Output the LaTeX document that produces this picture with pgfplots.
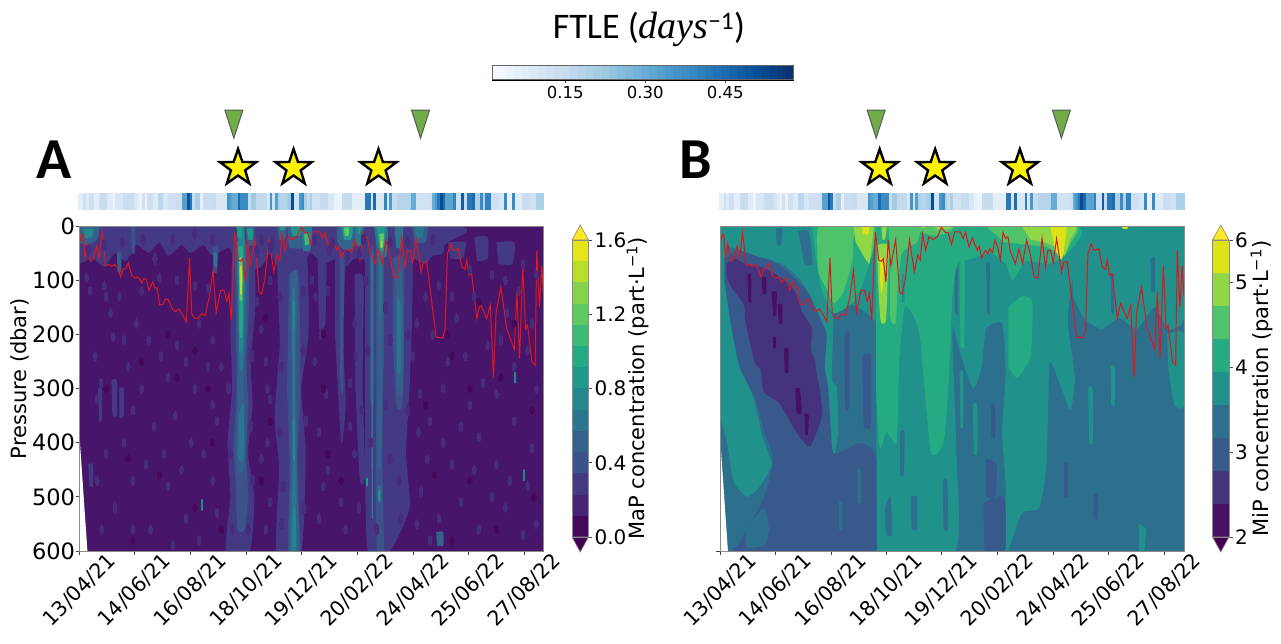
\documentclass[border=0pt]{standalone}
\usepackage{fontspec}
\setmainfont{DejaVu Sans}
\newfontfamily\calibri{Carlito}
\newfontfamily\serifit{Liberation Serif}
\usepackage{pgfplots}
\usepackage{pgfplotstable}
\pgfplotsset{compat=1.18}
\usetikzlibrary{calc}

% viridis bands, panel A (14 bands)
\definecolor{a0}{HTML}{47156A}\definecolor{a1}{HTML}{45085B}\definecolor{a3}{HTML}{443A83}
\definecolor{a2}{HTML}{482475}\definecolor{a2b}{HTML}{462C7B}
\definecolor{a4}{HTML}{3B528B}\definecolor{a5}{HTML}{33638D}\definecolor{a6}{HTML}{2A768E}
\definecolor{a7}{HTML}{24878E}\definecolor{a8}{HTML}{1F9A8A}\definecolor{a9}{HTML}{24AA83}
\definecolor{a10}{HTML}{3BBB75}\definecolor{a11}{HTML}{5EC962}\definecolor{a12}{HTML}{84D44B}
\definecolor{a13}{HTML}{B8DE29}\definecolor{a14}{HTML}{E3E419}
% viridis bands, panel B (9 bands)
\definecolor{b1}{HTML}{471063}\definecolor{b2}{HTML}{46337E}\definecolor{b3}{HTML}{37598C}
\definecolor{b4}{HTML}{2D708E}\definecolor{b5}{HTML}{21918C}\definecolor{b6}{HTML}{25AB82}
\definecolor{b7}{HTML}{4EC36B}\definecolor{b8}{HTML}{8FD744}\definecolor{b9}{HTML}{DDE318}
\definecolor{spine}{HTML}{8A8A8A}
\definecolor{tri}{HTML}{70AD47}
\definecolor{redl}{HTML}{E0161E}
\definecolor{topy}{HTML}{FDE725}
\definecolor{boty}{HTML}{440154}

\pgfplotsset{colormap={ftle}{rgb255=(247,251,255) rgb255=(222,235,247) rgb255=(198,219,239) rgb255=(158,202,225) rgb255=(107,174,214) rgb255=(66,146,198) rgb255=(33,113,181) rgb255=(8,81,156) rgb255=(8,48,107)}}

\pgfdeclareplotmark{fstar}{%
  \pgfsetlinewidth{2.4pt}\pgfsetmiterjoin\pgfsetmiterlimit{10}
  \pgfpathmoveto{\pgfqpoint{0pt}{19pt}}
  \pgfpathlineto{\pgfqpoint{4.41pt}{6.07pt}}
  \pgfpathlineto{\pgfqpoint{18.07pt}{5.87pt}}
  \pgfpathlineto{\pgfqpoint{7.13pt}{-2.32pt}}
  \pgfpathlineto{\pgfqpoint{11.17pt}{-15.37pt}}
  \pgfpathlineto{\pgfqpoint{0pt}{-7.5pt}}
  \pgfpathlineto{\pgfqpoint{-11.17pt}{-15.37pt}}
  \pgfpathlineto{\pgfqpoint{-7.13pt}{-2.32pt}}
  \pgfpathlineto{\pgfqpoint{-18.07pt}{5.87pt}}
  \pgfpathlineto{\pgfqpoint{-4.41pt}{6.07pt}}
  \pgfpathclose\pgfusepathqfillstroke}
\pgfdeclareplotmark{ftri}{%
  \pgfsetlinewidth{1pt}\pgfsetmiterjoin
  \pgfpathmoveto{\pgfqpoint{-9pt}{14pt}}
  \pgfpathlineto{\pgfqpoint{9pt}{14pt}}
  \pgfpathlineto{\pgfqpoint{0pt}{-14pt}}
  \pgfpathclose\pgfusepathqfillstroke}

\newcommand\blob[2]{\addplot[fill=#1,draw=none,forget plot,smooth,tension=.35] coordinates {#2} -- cycle;}
\newcommand\poly[2]{\addplot[fill=#1,draw=none,forget plot] coordinates {#2} -- cycle;}

\pgfplotstableread{
d p
0 30
3.2 15
4.3 17
6.2 57
8.8 33
12.6 65
15.6 59
19.4 37
22 60
25.4 10
29.5 73
33.3 71
36.3 74
40 71
43 79
46.4 94
49.4 79
52 79
55 68
58.8 91
62.6 96
66.3 94
70 105
72.7 97
75.3 98
78.4 119
82.5 103
85 114
87.4 114
90.4 145
94 145
97 135
100 136
105 154
108.4 158
112 153
117 166
120.4 177
124 59
126.5 162
129.5 170
133 171
138 162
141.5 165
146 134
150.5 82
154 160
159 119
163 119
166 139
168.5 125
171 174
175 11
179 63
181.7 65
184 60
187 103
189.6 26
192.6 73
198 25
202.4 122
205.4 126
209 97
213.6 25
219 85
223 53
225.7 63
228.3 14
231.7 45
235.4 20
240 25
245 20
249.7 2.5
254 12
257 12
261 34
264.4 11
271 11
274 23
276.8 12
280.6 39
284.3 22
290 45
292 37
295 59
299 45
302 51
304 42
307 49
310 26
313 39
316 63
319 12
322 23
324.5 20
327.5 48
333 70
337 42
341 70
345.6 26
350 54
354 94
358.4 96
363 23
367 76
369.6 45
372.6 45
375.6 68
379.4 23
385 85
387.7 66
391.4 66
397 140
402 205
409.5 207
412 190
414.7 51
418.5 33
421.5 45
427 42
431 76
434.6 80
436.5 63
439 91
442 88
447.8 171
451.5 143
459 171
463 146
466.6 279
469.6 159
475 113
481.6 190
490 228
493 122
496 245
499.7 73
502.7 190
505 183
510 251
513.6 257
515.4 45
518.4 150
521 73
523 130
}\redline

\pgfplotstableread{
d v
0 .07
3 .07
6 .13
9 .08
12 .13
15 .13
18 .07
21 .07
24 .14
27 .15
30 .14
33 .08
36 .08
39 .04
42 .1
45 .1
48 .1
51 .14
54 .14
57 .15
60 .14
63 .1
66 .08
69 .05
72 .13
75 .05
78 .13
81 .13
84 .08
87 .08
90 .17
93 .17
96 .1
99 .1
102 .13
105 .13
108 .13
111 .14
114 .14
117 .33
120 .33
123 .5
126 .42
129 .15
132 .2
135 .2
138 .06
141 .14
144 .14
147 .14
150 .15
153 .15
156 .1
159 .1
162 .1
165 .1
168 .36
171 .33
174 .3
177 .3
180 .45
183 .38
186 .38
189 .38
192 .15
195 .22
198 .22
201 .16
204 .16
207 .16
210 .16
213 .1
216 .36
219 .12
222 .33
225 .2
228 .18
231 .18
234 .2
237 .22
240 .52
243 .12
246 .12
249 .35
252 .38
255 .2
258 .15
261 .2
264 .12
267 .12
270 .12
273 .15
276 .15
279 .15
282 .1
285 .1
288 .05
291 .05
294 .05
297 .15
300 .15
303 .15
306 .15
309 .07
312 .07
315 .07
318 .07
321 .07
324 .42
327 .42
330 .12
333 .45
336 .1
339 .1
342 .1
345 .4
348 .1
351 .35
354 .15
357 .15
360 .18
363 .18
366 .18
369 .18
372 .18
375 .3
378 .3
381 .12
384 .12
387 .12
390 .12
393 .12
396 .14
399 .3
402 .35
405 .42
408 .52
411 .45
414 .32
417 .32
420 .32
423 .4
426 .12
429 .12
432 .48
435 .15
438 .42
441 .42
444 .45
447 .2
450 .2
453 .38
456 .2
459 .4
462 .4
465 .13
468 .13
471 .13
474 .1
477 .1
480 .38
483 .05
486 .05
489 .38
492 .08
495 .08
498 .08
501 .14
504 .14
507 .14
510 .12
513 .12
516 .2
519 .2
522 .2
}\ftle

% lighter speckles
\pgfplotstableread{
d p
12 120
18 240
24 290
20 320
30 130
38 205
50 210
64 180
78 210
92 240
100 280
120 250
135 180
150 210
160 260
205 190
210 250
215 320
266 130
272 200
305 290
310 180
318 340
376 240
384 310
398 200
410 300
425 170
435 240
445 130
460 220
470 310
482 160
495 120
505 230
515 300
60 340
84 370
108 350
126 400
150 330
212 400
270 380
280 450
310 420
382 380
392 430
410 400
430 370
450 390
470 440
490 360
510 410
20 470
40 520
60 470
80 560
100 480
120 540
150 470
215 510
270 540
300 560
385 490
405 540
430 510
450 560
480 520
500 570
8 95
28 110
45 130
70 120
90 95
110 100
130 110
145 115
200 140
215 100
262 100
280 120
390 130
405 110
420 130
440 80
465 90
480 100
500 70
515 90
35 160
55 260
70 300
110 220
130 300
145 260
155 360
205 430
212 300
265 250
278 310
305 370
312 240
380 180
395 360
415 250
440 330
455 290
475 210
490 260
510 180
30 420
50 400
75 440
95 420
115 450
140 420
155 530
210 560
275 480
295 510
315 520
380 550
395 580
420 440
445 450
465 500
485 470
505 480
515 550
25 560
60 560
105 590
135 580
}\speckA

% darker holes, on the halos and the top band
\pgfplotstableread{
d p
10 45
28 35
48 30
72 25
85 60
105 25
130 15
150 25
205 25
218 30
265 25
285 30
320 25
350 30
370 30
398 25
215 40
200 45
282 45
302 55
315 50
323 100
345 150
350 210
325 230
370 200
370 340
345 330
350 430
328 400
360 470
335 560
362 540
226 130
252 120
228 260
252 230
226 380
255 360
230 480
228 550
253 520
168 300
170 420
194 240
193 370
195 470
172 560
190 560
}\speckH

\pgfplotstableread{
d p
30 300
70 250
110 280
145 300
215 360
275 300
390 330
420 240
440 300
475 280
510 340
55 430
90 460
150 400
160 560
205 470
295 470
400 460
440 470
470 560
512 500
130 520
420 580
60 580
280 420
100 200
130 230
210 170
275 200
415 200
450 140
490 180
}\speckD

\pgfplotsset{
 heat/.style={scale only axis,width=464pt,height=325pt,xmin=0,xmax=523,ymin=0,ymax=600,y dir=reverse,
   axis on top,axis line style={spine,line width=.9pt},clip=true,
   xtick={0,62,125,188,250,313,376,438,501},
   xticklabels={13/04/21,14/06/21,16/08/21,18/10/21,19/12/21,20/02/22,24/04/22,25/06/22,27/08/22},
   xtick pos=bottom,ytick pos=left,tick align=outside,
   major tick length=4pt,tick style={black!75,line width=.8pt},
   xticklabel style={yshift=-35pt,anchor=center,rotate=45,font=\fontsize{20.5}{20.5}\selectfont},
   yticklabel style={font=\fontsize{22.5}{22.5}\selectfont,xshift=3pt},
 },
 over/.style={scale only axis,width=464pt,height=325pt,xmin=0,xmax=523,ymin=0,ymax=600,y dir=reverse,
   hide axis,clip=false},
 strip/.style={scale only axis,width=464pt,height=17pt,xmin=0,xmax=523,ymin=0,ymax=1,hide axis,clip=true,
   colormap name=ftle,point meta min=0.0125,point meta max=0.577},
 cb/.style={scale only axis,width=16.5pt,height=297pt,xmin=0,xmax=1,xtick=\empty,clip=false,
   axis on top,axis line style={spine,line width=.7pt},ytick pos=right,tick align=outside,
   yticklabel pos=right,major tick length=3.5pt,tick style={black!70,line width=.7pt},
   yticklabel style={font=\fontsize{20}{20}\selectfont,xshift=-1pt}},
}

\begin{document}
\begin{tikzpicture}[x=1pt,y=1pt]
\path (0,0) rectangle (1281,644);

%%%%%%%%%%%% title and FTLE colour key
\node at (649,615) {\calibri\fontsize{36}{36}\selectfont FTLE ({\serifit\itshape\fontsize{38}{38}\selectfont days}\textsuperscript{−1})};
\begin{axis}[at={(492pt,564pt)},anchor=south west,scale only axis,width=301pt,height=14pt,
   xmin=0.0125,xmax=0.577,ymin=0,ymax=1,clip=true,clip marker paths=true,
   xtick={0.15,0.30,0.45},ytick=\empty,xtick pos=bottom,tick align=outside,major tick length=3pt,
   tick style={black!70},
   xticklabel style={font=\fontsize{16.5}{16.5}\selectfont},
   colormap name=ftle,point meta min=0.0125,point meta max=0.577,
   /pgf/number format/assume math mode=true,
   /pgf/number format/.cd,fixed,fixed zerofill,precision=2]
 \addplot[scatter,only marks,mark=|,mark size=7pt,mark options={line width=9pt},
   scatter/use mapped color={draw=mapped color,fill=mapped color},point meta=x]
   coordinates {(.02,.5)(.03,.5)(.045,.5)(.06,.5)(.075,.5)(.09,.5)(.105,.5)(.12,.5)(.135,.5)(.15,.5)(.165,.5)(.18,.5)(.195,.5)(.21,.5)(.225,.5)(.24,.5)(.255,.5)(.27,.5)(.285,.5)(.30,.5)(.315,.5)(.33,.5)(.345,.5)(.36,.5)(.375,.5)(.39,.5)(.405,.5)(.42,.5)(.435,.5)(.45,.5)(.465,.5)(.48,.5)(.495,.5)(.51,.5)(.525,.5)(.54,.5)(.555,.5)(.57,.5)};
\end{axis}
% frame of the key, drawn over its colours
\begin{axis}[at={(492pt,564pt)},anchor=south west,scale only axis,width=301pt,height=14pt,
   xmin=0.0125,xmax=0.577,ymin=0,ymax=1,xtick=\empty,ytick=\empty,axis line style={black!60,line width=1pt}]
\end{axis}

%%%%%%%%%%%% PANEL A
\node[anchor=center] at (54,484) {\calibri\bfseries\fontsize{58}{58}\selectfont A};
\begin{axis}[strip,at={(79.5pt,434pt)},anchor=south west]
 \addplot[scatter,only marks,mark=|,mark size=8.5pt,mark options={line width=3pt},
   scatter/use mapped color={draw=mapped color,fill=mapped color},
   point meta=\thisrow{v}] table[x=d,y expr=0.5] {\ftle};
\end{axis}
\begin{axis}[heat,at={(79.5pt,93pt)},anchor=south west,
   ylabel={Pressure (dbar)},ytick={0,100,...,600},
   axis background/.style={fill=a0},
   ylabel style={font=\fontsize{21}{21}\selectfont,at={(axis description cs:-0.128,0.53)},anchor=center},
   /pgf/number format/assume math mode=true]
 % broad haloes
 \blob{a3}{(0,0)(420,0)(415,30)(400,50)(390,70)(375,60)(360,80)(345,60)(330,65)(310,60)(300,75)(290,60)(275,70)(260,50)(250,80)(235,55)(222,70)(215,50)(205,75)(195,80)(190,60)(175,60)(168,40)(150,55)(140,35)(125,50)(115,35)(100,55)(90,30)(78,50)(65,35)(52,65)(40,50)(28,75)(15,60)(0,70)}
 \blob{a3}{(172,50)(196,50)(198,150)(193,250)(195,330)(190,420)(197,500)(192,600)(165,600)(170,500)(167,400)(172,300)(170,200)}
 \blob{a3}{(222,40)(255,40)(258,200)(250,300)(255,420)(250,600)(222,600)(225,450)(220,350)(226,220)}
 \blob{a3}{(288,40)(300,40)(297,200)(300,330)(295,400)(288,200)}
 \blob{a3}{(322,40)(372,40)(375,150)(372,300)(368,420)(372,520)(350,600)(325,600)(322,450)}
 \blob{a3}{(268,40)(278,40)(277,180)(270,190)}
 \blob{a3}{(310,90)(320,100)(319,300)(322,460)(316,470)(311,300)}
 \blob{a3}{(445,20)(460,20)(460,60)(448,65)}
 \blob{a3}{(36,285)(42,285)(42,350)(37,350)}
 \blob{a3}{(45,300)(50,300)(50,350)(45,355)}
 \blob{a3}{(21,300)(25,300)(25,360)(22,360)}
 \blob{a3}{(10,440)(15,440)(15,480)(11,480)}
 \blob{a3}{(395,20)(410,20)(410,50)(395,55)}
 \blob{a3}{(470,30)(490,30)(488,70)(472,70)}
 \blob{a3}{(415,30)(435,30)(432,60)(418,60)}
 % speckles
 \addplot[only marks,mark=*,mark size=2.2pt,mark options={fill=a2b,draw=a2b,line width=0pt,yscale=2.6},forget plot] table[x=d,y=p] {\speckH};
 \addplot[only marks,mark=*,mark size=1.8pt,mark options={fill=a2b,draw=a2b,line width=0pt,yscale=2.6},forget plot] table[x=d,y=p] {\speckA};
 \addplot[only marks,mark=*,mark size=1.8pt,mark options={fill=a1,draw=a1,line width=0pt,xscale=1.3,yscale=2.2},forget plot] table[x=d,y=p] {\speckD};
 % streak day 181
 \blob{a4}{(175,40)(190,40)(191,150)(188,250)(190,330)(188,420)(190,500)(186,560)(178,560)(176,480)(174,400)(177,300)(176,150)}
 \blob{a5}{(177,30)(188,30)(188,180)(185,290)(187,400)(185,450)(178,450)(178,330)(179,200)}
 \blob{a6}{(178,0)(186,0)(186,170)(184,260)(180,260)(179,170)}
 \blob{a6}{(179,350)(185,330)(185,430)(179,430)}
 \blob{a7}{(178.5,0)(185,0)(185,150)(184,230)(180,230)(179.5,150)}
 \blob{a9}{(179,40)(184,40)(184,110)(183.5,200)(180.5,200)(180,110)}
 \blob{a8}{(177,0)(183,0)(183,20)(178,20)}
 \blob{a11}{(180,60)(183.5,60)(183.5,135)(180.5,135)}
 \blob{a13}{(180.5,75)(183,75)(183,125)(181,125)}
 % streak day 241
 \blob{a4}{(236,90)(247,90)(249,300)(245,450)(249,600)(235,600)(237,450)(234,300)}
 \blob{a5}{(238,90)(245,90)(244,300)(245,400)(247,600)(237,600)(239,400)(239,250)}
 \blob{a6}{(239.5,120)(243,120)(242.5,300)(243.5,450)(244,600)(238,600)(240.5,450)(240,300)}
 \blob{a7}{(240.3,140)(242.7,140)(242.3,190)(240.7,190)}
 \blob{a7}{(240.3,360)(242.7,360)(242.7,430)(240.7,430)}
 \blob{a7}{(241,520)(243.5,525)(244,590)(240,590)}
 % streaks 330, 338, 359
 \blob{a4}{(327,50)(332,50)(332,320)(327,320)}
 \blob{a4}{(334,40)(343,40)(343,250)(341,400)(343,600)(335,600)(334,400)}
 \blob{a4}{(353,60)(365,60)(366,200)(364,330)(357,330)(353,200)}
 \blob{a4}{(293,60)(298,60)(297,300)(294,300)}
 \blob{a5}{(336,40)(342,40)(341,300)(340,440)(336,440)(336,300)}
 \blob{a5}{(356,90)(364,90)(364,300)(358,300)(357,200)}
 \poly{a6}{(328.8,50)(331,50)(331,540)(329.2,540)}
 \blob{a6}{(337,60)(341,60)(340,160)(338,160)}
 \blob{a6}{(336,480)(340,480)(340,510)(336,510)}
 \blob{a8}{(337,490)(339,490)(339,505)(337,505)}
 \blob{a6}{(358,140)(362,140)(362,270)(358,270)}
 % top patches
 \blob{a5}{(290,0)(315,0)(312,30)(305,45)(295,40)(290,25)}
 \blob{a8}{(295,0)(308,0)(306,25)(298,25)}
 \blob{a11}{(298,3)(304,3)(303,18)(299,18)}
 \blob{a6}{(310,0)(320,0)(318,35)(312,35)}
 \blob{a8}{(313,0)(317,0)(316,15)(314,15)}
 \blob{a6}{(332,0)(347,0)(346,55)(336,55)}
 \blob{a8}{(335,0)(344,0)(343,45)(338,45)}
 \blob{a11}{(338,15)(343,15)(342,40)(339,40)}
 \blob{a13}{(339.5,28)(341.5,28)(341,40)(340,40)}
 \blob{a6}{(355,0)(365,0)(363,40)(357,40)}
 \blob{a5}{(375,0)(392,0)(390,30)(378,30)}
 \blob{a6}{(378,0)(388,0)(386,20)(380,20)}
 \blob{a5}{(0,0)(22,0)(20,25)(8,35)(0,30)}
 \blob{a7}{(4,5)(16,5)(14,20)(6,22)}
 \blob{a4}{(58,0)(63,0)(62,50)(59,50)}
 \blob{a5}{(42,50)(47,50)(47,85)(43,85)}
 \blob{a4}{(150,40)(156,40)(155,85)(151,85)}
 \blob{a6}{(151,50)(155,50)(155,75)(152,75)}
 \blob{a5}{(187,0)(197,0)(196,35)(189,35)}
 \blob{a8}{(189,5)(195,5)(195,25)(190,25)}
 \blob{a5}{(223,0)(233,0)(232,25)(225,25)}
 \blob{a8}{(226,0)(231,0)(231,8)(226,8)}
 \blob{a5}{(234,0)(254,0)(252,40)(236,40)}
 \blob{a8}{(238,0)(250,0)(248,18)(240,18)}
 \blob{a6}{(250,0)(262,0)(260,45)(252,45)}
 \blob{a10}{(253,15)(259,15)(258,35)(254,35)}
 % isolated blobs
 \blob{a5}{(402,565)(410,565)(410,590)(403,590)}
 \blob{a7}{(500,450)(502,450)(502,470)(500,470)}
 \blob{a8}{(323,465)(325,465)(325,480)(323,480)}
 \blob{a7}{(137,505)(139,505)(139,525)(137,525)}
 \blob{a7}{(490,270)(492,270)(492,290)(490,290)}
 % white wedge
 \poly{white}{(-2,340)(-2,602)(9,602)}
 \addplot[redl,line width=1pt,forget plot] table[x=d,y=p] {\redline};
\end{axis}
\begin{axis}[over,at={(79.5pt,93pt)},anchor=south west]
 \addplot[only marks,mark=fstar,mark options={fill=yellow,draw=black}] coordinates {(178.7,-107)(241.3,-107)(337,-107)};
 \addplot[only marks,mark=ftri,mark options={fill=tri,draw=black!65}] coordinates {(174,-188)(384.4,-188)};
\end{axis}
% colour bar A
\begin{axis}[cb,at={(572pt,107pt)},anchor=south west,ymin=0,ymax=1.6,ytick={0,0.4,0.8,1.2,1.6},
   ylabel={MaP concentration (part·L\textsuperscript{−1})},
   ylabel style={font=\fontsize{21}{21}\selectfont,at={(axis description cs:4.0,0.5)},anchor=center,rotate=0},
   /pgf/number format/assume math mode=true,
   /pgf/number format/.cd,fixed,fixed zerofill,precision=1]
 \poly{a1}{(0,0)(1,0)(1,.1143)(0,.1143)}
 \poly{a2}{(0,.1143)(1,.1143)(1,.2286)(0,.2286)}
 \poly{a3}{(0,.2286)(1,.2286)(1,.3429)(0,.3429)}
 \poly{a4}{(0,.3429)(1,.3429)(1,.4571)(0,.4571)}
 \poly{a5}{(0,.4571)(1,.4571)(1,.5714)(0,.5714)}
 \poly{a6}{(0,.5714)(1,.5714)(1,.6857)(0,.6857)}
 \poly{a7}{(0,.6857)(1,.6857)(1,.8)(0,.8)}
 \poly{a8}{(0,.8)(1,.8)(1,.9143)(0,.9143)}
 \poly{a9}{(0,.9143)(1,.9143)(1,1.0286)(0,1.0286)}
 \poly{a10}{(0,1.0286)(1,1.0286)(1,1.1429)(0,1.1429)}
 \poly{a11}{(0,1.1429)(1,1.1429)(1,1.2571)(0,1.2571)}
 \poly{a12}{(0,1.2571)(1,1.2571)(1,1.3714)(0,1.3714)}
 \poly{a13}{(0,1.3714)(1,1.3714)(1,1.4857)(0,1.4857)}
 \poly{a14}{(0,1.4857)(1,1.4857)(1,1.6)(0,1.6)}
 \addplot[fill=topy,draw=spine,line width=.6pt,forget plot] coordinates {(0,1.6)(1,1.6)(.5,1.681)} -- cycle;
 \addplot[fill=boty,draw=spine,line width=.6pt,forget plot] coordinates {(0,0)(1,0)(.5,-.081)} -- cycle;
\end{axis}

%%%%%%%%%%%% PANEL B
\node[anchor=center] at (696,484) {\calibri\bfseries\fontsize{58}{58}\selectfont B};
\begin{axis}[strip,at={(720pt,434pt)},anchor=south west]
 \addplot[scatter,only marks,mark=|,mark size=8.5pt,mark options={line width=3pt},
   scatter/use mapped color={draw=mapped color,fill=mapped color},
   point meta=\thisrow{v}] table[x=d,y expr=0.5] {\ftle};
\end{axis}
\begin{axis}[heat,at={(720pt,93pt)},anchor=south west,ytick={600},yticklabels={},
   axis background/.style={fill=b4}]
 % teal, left
 \blob{b5}{(0,0)(125,0)(125,150)(128,170)(126,280)(132,300)(133,380)(128,430)(122,440)(120,380)(118,300)(108,180)(100,125)(88,95)(70,70)(45,60)(30,50)(15,40)(0,40)}
 \blob{b5}{(0,40)(7,45)(7,120)(15,180)(25,260)(38,320)(48,390)(58,440)(45,480)(30,500)(15,470)(8,400)(0,350)}
 \blob{b4}{(63,5)(70,5)(69,35)(64,35)}
 \blob{b4}{(88,10)(100,10)(104,70)(95,70)}
 % blue envelope
 \blob{b3}{(5,60)(20,45)(40,55)(60,65)(80,90)(100,125)(110,160)(120,200)(118,260)(122,300)(125,380)(128,420)(145,410)(160,400)(176,430)(177,600)(20,600)(20,590)(30,560)(50,500)(60,430)(50,380)(40,320)(22,260)(12,180)(5,100)}
 \blob{b3}{(140,200)(146,200)(146,330)(141,340)}
 \blob{b3}{(160,240)(170,240)(170,370)(162,370)}
 \blob{b4}{(134,510)(138,510)(138,560)(134,560)}
 \blob{b4}{(28,560)(50,520)(55,560)(50,590)(30,595)}
 \blob{b4}{(155,450)(159,450)(159,510)(155,510)}
 % purple core
 \blob{b2}{(7,70)(17,60)(29,70)(47.5,76)(70,97)(85,122)(92.6,159)(104,190)(102,226)(107.6,251)(108,266)(113,306)(115,346)(111,372)(101,407)(87,383)(66.7,327)(49,306)(46,266)(39,251)(28.7,177)(27,146)(14,116)(8,97)}
 \blob{b1}{(31,90)(35,90)(35,140)(32,140)}
 \blob{b1}{(58,122)(64,122)(63,165)(60,165)}
 \blob{b1}{(47,95)(52,95)(52,125)(48,125)}
 \blob{b1}{(65,145)(70,145)(70,180)(66,180)}
 \blob{b1}{(72,226)(77,226)(77,270)(73,270)}
 \blob{b1}{(60,205)(63,205)(63,225)(60,225)}
 \blob{b1}{(85,300)(90,300)(92,345)(86,345)}
 \blob{b1}{(95,345)(100,350)(99,385)(96,385)}
 % column 145-175 and right part, teal
 \blob{b5}{(120,0)(178,0)(178,170)(165,160)(150,145)(141,150)(130,150)(125,130)}
 \blob{b5}{(175,0)(265,0)(262,200)(266,400)(265,600)(177,600)}
 \blob{b5}{(262,0)(400,0)(395,120)(392,180)(400,280)(395,340)(385,300)(372,250)(370,320)(368,440)(360,520)(340,530)(325,600)(322,600)(322,480)(318,380)(322,270)(318,180)(300,190)(295,260)(285,300)(270,230)(262,180)}
 \blob{b5}{(395,0)(523,0)(523,170)(505,190)(490,150)(470,190)(450,170)(430,190)(410,170)(398,130)}
 \blob{b5}{(504,200)(523,200)(523,330)(512,330)(505,260)}
 \blob{b5}{(472,550)(480,560)(478,600)(472,600)}
 \blob{b4}{(203,380)(208,380)(207,460)(203,460)}
 \blob{b4}{(264,60)(268,60)(268,160)(265,160)}
 \blob{b4}{(251,470)(256,470)(257,560)(252,560)}
 \blob{b4}{(215,500)(222,500)(222,560)(216,560)}
 \blob{b4}{(186,520)(192,500)(194,570)(187,570)}
 \blob{b4}{(440,90)(444,90)(444,160)(441,160)}
 \blob{b4}{(485,60)(490,60)(490,120)(486,120)}
 \blob{b4}{(300,70)(304,70)(304,160)(301,160)}
 \blob{b5}{(270,270)(274,270)(274,370)(271,370)}
 \blob{b5}{(285,330)(290,330)(290,420)(286,420)}
 \blob{b5}{(415,300)(420,300)(420,400)(416,400)}
 \blob{b5}{(440,260)(445,260)(445,330)(441,330)}
 % blue patches
 \blob{b3}{(297,512)(320,500)(321,600)(298,600)}
 \blob{b3}{(388,438)(392,438)(392,500)(388,500)}
 \blob{b3}{(421,495)(426,495)(426,540)(421,540)}
 \blob{b3}{(300,430)(312,440)(310,500)(300,500)}
 \blob{b3}{(306,330)(310,330)(310,390)(306,390)}
 % green
 \blob{b6}{(104,0)(108,60)(115,120)(127,160)(138,155)(150,140)(160,110)(168,70)(172,0)}
 \blob{b6}{(175,0)(400,0)(392,50)(370,70)(345,65)(330,100)(322,70)(305,50)(285,60)(268,70)(262,130)(258,280)(252,400)(238,420)(230,290)(225,200)(218,165)(208,150)(202,250)(199,400)(188,380)(180,410)(176,300)(176,100)}
 \blob{b6}{(325,150)(340,130)(352,140)(350,240)(335,280)(325,260)}
 \blob{b6}{(270,70)(276,70)(275,220)(271,220)}
 \blob{b5}{(212,200)(218,200)(218,280)(213,280)}
 \blob{b5}{(205,90)(208,90)(208,140)(205,140)}
 % light green
 \blob{b7}{(110,0)(150,0)(150,30)(149,66)(139,122)(128,143)(121,119)(111,85)(109.5,23)}
 \blob{b7}{(150,0)(175,0)(170,60)(158,30)}
 \blob{b7}{(190,0)(225,0)(222,30)(205,50)(200,120)(198,180)(192,170)(192,60)}
 \blob{b7}{(225,0)(262,0)(258,12)(240,18)(225,10)}
 \blob{b7}{(300,0)(400,0)(396,30)(385,55)(370,40)(350,35)(320,30)}
 % lime
 \blob{b8}{(150,0)(172,0)(170,50)(168,70)(160,50)(153,30)}
 \blob{b8}{(182,0)(188,0)(186,25)(183,25)}
 \blob{b8}{(177,35)(190,35)(189,100)(187,175)(181,175)(178,100)}
 \blob{b8}{(340,0)(400,0)(395,25)(388,55)(380,40)(365,30)(350,25)}
 \blob{b8}{(240,0)(262,0)(258,5)(245,6)}
 % yellow
 \blob{b9}{(180,60)(184.5,60)(184,105)(182,125)(180.5,100)}
 \blob{b9}{(372,0)(390,0)(388,40)(385,62)(378,45)}
 \blob{b9}{(160,0)(168,0)(167,15)(161,15)}
 \blob{b9}{(453,0)(460,0)(459,5)(454,5)}
 \blob{b9}{(226,0)(232,0)(231,3)(227,3)}
 \poly{white}{(-2,340)(-2,602)(9,602)}
 \addplot[redl,line width=1pt,forget plot] table[x=d,y=p] {\redline};
\end{axis}
\begin{axis}[over,at={(720pt,93pt)},anchor=south west]
 \addplot[only marks,mark=fstar,mark options={fill=yellow,draw=black}] coordinates {(180,-107)(242.5,-107)(338,-107)};
 \addplot[only marks,mark=ftri,mark options={fill=tri,draw=black!65}] coordinates {(176,-188)(384.8,-188)};
\end{axis}
% colour bar B
\begin{axis}[cb,at={(1212.5pt,107pt)},anchor=south west,ymin=2,ymax=5.5,ytick={2,3,4,5,5.5},yticklabels={2,3,4,5,6},
   ylabel={MiP concentration (part·L\textsuperscript{−1})},
   ylabel style={font=\fontsize{21}{21}\selectfont,at={(axis description cs:3.0,0.5)},anchor=center}]
 \poly{b1}{(0,2)(1,2)(1,2.389)(0,2.389)}
 \poly{b2}{(0,2.389)(1,2.389)(1,2.778)(0,2.778)}
 \poly{b3}{(0,2.778)(1,2.778)(1,3.167)(0,3.167)}
 \poly{b4}{(0,3.167)(1,3.167)(1,3.556)(0,3.556)}
 \poly{b5}{(0,3.556)(1,3.556)(1,3.944)(0,3.944)}
 \poly{b6}{(0,3.944)(1,3.944)(1,4.333)(0,4.333)}
 \poly{b7}{(0,4.333)(1,4.333)(1,4.722)(0,4.722)}
 \poly{b8}{(0,4.722)(1,4.722)(1,5.111)(0,5.111)}
 \poly{b9}{(0,5.111)(1,5.111)(1,5.5)(0,5.5)}
 \addplot[fill=topy,draw=spine,line width=.6pt,forget plot] coordinates {(0,5.5)(1,5.5)(.5,5.677)} -- cycle;
 \addplot[fill=boty,draw=spine,line width=.6pt,forget plot] coordinates {(0,2)(1,2)(.5,1.823)} -- cycle;
\end{axis}
\end{tikzpicture}
\end{document}
